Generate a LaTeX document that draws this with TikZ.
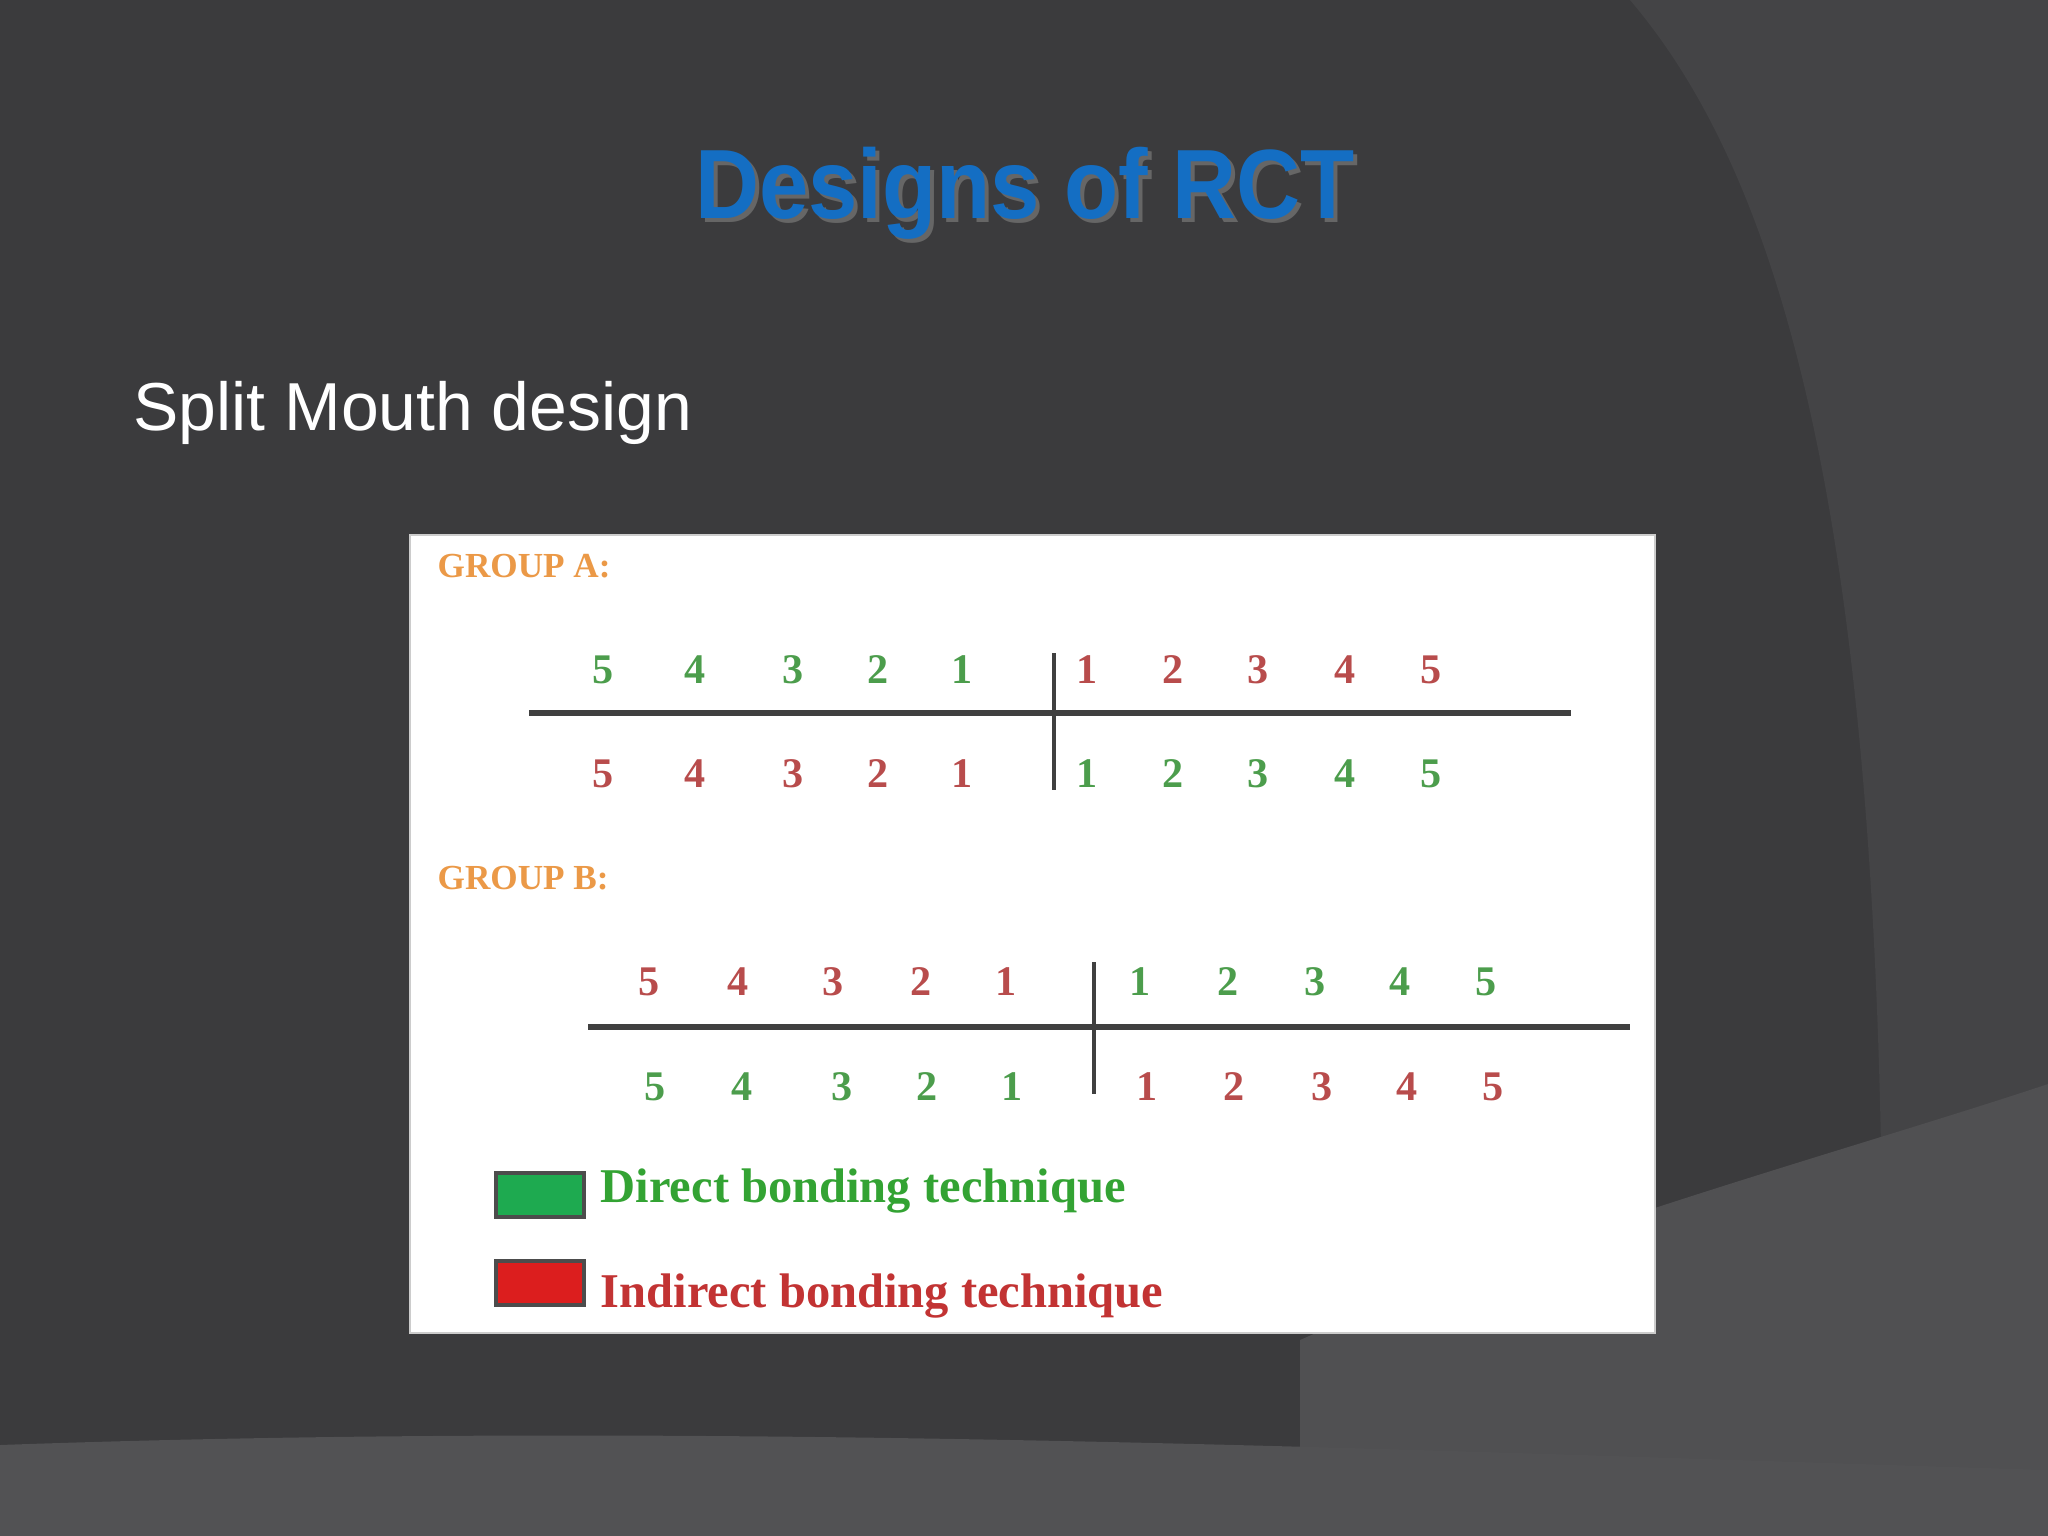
\documentclass[tikz,border=0pt]{standalone}
\usepackage{fontspec}
\setmainfont{Liberation Serif}
\newfontfamily\sansf{Liberation Sans}
\begin{document}
\begin{tikzpicture}[x=0.01cm,y=-0.01cm,
  dg/.style={font=\bfseries\fontsize{12}{12}\selectfont,inner sep=0},
  gA/.style={dg,text=green!45!black!70},
  rA/.style={dg,text=red!60!black!70},
  grp/.style={font=\bfseries\fontsize{10}{10}\selectfont,text=orange!60!brown!80,anchor=west,inner sep=0},
  axis/.style={draw=black!75,line width=1.6pt},
  ttl/.style={font=\sansf\bfseries\fontsize{28}{28}\selectfont,xscale=0.9},
  lbox/.style={draw=black!70,line width=1pt,minimum width=0.88cm,minimum height=0.44cm,inner sep=0}]
\useasboundingbox (0,0) rectangle (2048,1536);
\fill[fill={rgb,255:red,59;green,59;blue,61}] (0,0) rectangle (2048,1536);
\fill[fill={rgb,255:red,68;green,68;blue,70}] (1630,0) .. controls (1800,200) and (1900,600) .. (1880,1536) -- (2048,1536) -- (2048,0) -- cycle;
\fill[fill={rgb,255:red,80;green,80;blue,82}] (1300,1340) .. controls (1550,1230) and (1850,1150) .. (2048,1084) -- (2048,1536) -- (1300,1536) -- cycle;
\fill[fill={rgb,255:red,82;green,82;blue,84}] (0,1445) .. controls (700,1420) and (1400,1450) .. (2048,1470) -- (2048,1536) -- (0,1536) -- cycle;
\node[ttl,text=black!60] at (1029,197) {Designs of RCT};
\node (title) [ttl,text={rgb,255:red,20;green,110;blue,195}] at (1025,193) {Designs of RCT};
\node (sub) [font=\sansf\fontsize{19.3}{19.3}\selectfont,text=white,anchor=west,inner sep=0] at (133,413) {Split Mouth design};
\fill[white,draw=black!20] (410,535) rectangle (1655,1333);
\node (ga) [grp] at (437,566) {GROUP A:};
\node (gb) [grp] at (437,878) {GROUP B:};
% group A
\draw[axis] (529,713) -- (1571,713);
\draw[axis,line width=1.2pt] (1054,653) -- (1054,790);
\foreach \x [count=\i] in {603,695,793,878,962}{\node[gA] (a1l\i) at (\x,670) {\pgfmathparse{int(6-\i)}\pgfmathresult};
  \node[rA] (a2l\i) at (\x,774) {\pgfmathparse{int(6-\i)}\pgfmathresult};}
\foreach \x [count=\i] in {1087,1173,1258,1345,1431}{\node[rA] (a1r\i) at (\x,670) {\i};
  \node[gA] (a2r\i) at (\x,774) {\i};}
% group B
\draw[axis] (588,1027) -- (1630,1027);
\draw[axis,line width=1.2pt] (1094,962) -- (1094,1094);
\foreach \x [count=\i] in {649,738,833,921,1006}{\node[rA] (b1l\i) at (\x,982) {\pgfmathparse{int(6-\i)}\pgfmathresult};}
\foreach \x [count=\i] in {655,742,842,927,1012}{\node[gA] (b2l\i) at (\x,1087) {\pgfmathparse{int(6-\i)}\pgfmathresult};}
\foreach \x [count=\i] in {1140,1228,1315,1400,1486}{\node[gA] (b1r\i) at (\x,982) {\i};}
\foreach \x [count=\i] in {1147,1234,1322,1407,1493}{\node[rA] (b2r\i) at (\x,1087) {\i};}
% legend
\node (gbox) [lbox,fill={rgb,255:red,30;green,170;blue,80}] at (540,1195) {};
\node (rbox) [lbox,fill={rgb,255:red,220;green,30;blue,30}] at (540,1283) {};
\node (gt) [anchor=west,inner sep=0,font=\bfseries\fontsize{13.8}{13.8}\selectfont,text=green!55!black!80] at (600,1191) {Direct bonding technique};
\node (rt) [anchor=west,inner sep=0,font=\bfseries\fontsize{13.8}{13.8}\selectfont,text=red!70!black!80] at (600,1296) {Indirect bonding technique};
\end{tikzpicture}
\end{document}
